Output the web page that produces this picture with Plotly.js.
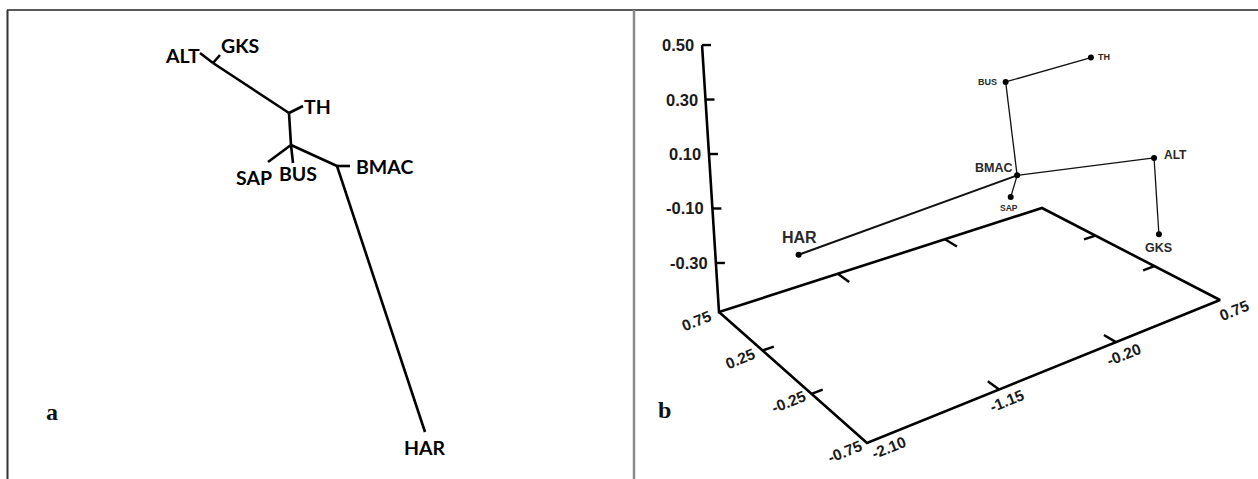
<!DOCTYPE html>
<html>
<head>
<meta charset="utf-8">
<script src="https://cdn.plot.ly/plotly-3.0.1.min.js"></script>
<style>html,body{margin:0;padding:0;background:#fff}#chart{width:1258px;height:479px}</style>
</head>
<body>
<div id="chart"></div>
<script>
// ---------------- DATA ----------------
// Panel a: unrooted tree (node positions in the tree's drawing units)
const treeNodes = ['ALT','J1','GKS','J2','TH','J3','SAP','BUS','J4','BMAC','HAR'];
const treeX     = [200, 213, 220, 289, 303, 291, 268, 293, 337, 350, 425];
const treeY     = [53,  63,  55,  113, 106, 145, 162, 163, 166, 166, 432];
const treeEdges = [['ALT','J1'],['GKS','J1'],['J1','J2'],['J2','TH'],['J2','J3'],
                   ['J3','SAP'],['J3','BUS'],['J3','J4'],['J4','BMAC'],['J4','HAR']];
const treeTips  = ['ALT','GKS','TH','SAP','BUS','BMAC','HAR'];

// Panel b: 3-D ordination (axis 1, axis 2, axis 3)
const pops  = ['HAR','BMAC','SAP','BUS','TH','ALT','GKS'];
const dim1  = [-1.86, -0.05, -0.12, -0.10, 0.71, 0.58, 0.58];
const dim2  = [ 0.15,  0.15,  0.15,  0.15, 0.15, -0.45, -0.45];
const dim3  = [-0.14, -0.13, -0.20,  0.22, 0.20, -0.01, -0.29];
const links = [['HAR','BMAC'],['BMAC','SAP'],['BMAC','BUS'],['BUS','TH'],['BMAC','ALT'],['ALT','GKS']];
const dim1Ticks = [-2.10, -1.15, -0.20, 0.75];
const dim2Ticks = [0.75, 0.25, -0.25, -0.75];
const dim3Ticks = [0.50, 0.30, 0.10, -0.10, -0.30];

// ---------------- VIEW / STYLE ----------------
const W = 1258, H = 479;
const SPLIT = 632;
const view = {
  floorCorners: { c00:[867,443], c10:[1220,300], c11:[1042,208], c01:[719,312] },
  zFloor: -0.48, up: [-17.3, -272.4]
};
const d1Min = dim1Ticks[0], d1Max = dim1Ticks[dim1Ticks.length-1];
const d2Min = Math.min(...dim2Ticks), d2Max = Math.max(...dim2Ticks);
const d3Max = Math.max(...dim3Ticks);

function makeHomography(P0,P1,P2,P3){
  const [x0,y0]=P0,[x1,y1]=P1,[x2,y2]=P2,[x3,y3]=P3;
  const dx1=x1-x2, dx2=x3-x2, dx3=x0-x1+x2-x3;
  const dy1=y1-y2, dy2=y3-y2, dy3=y0-y1+y2-y3;
  const det=dx1*dy2-dx2*dy1;
  const g=(dx3*dy2-dx2*dy3)/det, h=(dx1*dy3-dx3*dy1)/det;
  const a=x1-x0+g*x1, b=x3-x0+h*x3, c=x0;
  const d=y1-y0+g*y1, e=y3-y0+h*y3, f=y0;
  return (s,t)=>{const w=g*s+h*t+1; return [(a*s+b*t+c)/w,(d*s+e*t+f)/w];};
}
const fc = view.floorCorners;
const Hm = makeHomography(fc.c00, fc.c10, fc.c11, fc.c01);
const toS = u => (u-d1Min)/(d1Max-d1Min);
const toT = v => (v-d2Min)/(d2Max-d2Min);
function proj(u,v,z){
  const [x,y] = Hm(toS(u), toT(v));
  const h = z - view.zFloor;
  return [x + h*view.up[0], y + h*view.up[1]];
}

// ---------------- TRACES ----------------
const traces = [];
// Panel a tree
const idx = n => treeNodes.indexOf(n);
const ax=[], ay=[];
treeEdges.forEach(([p,q])=>{ ax.push(treeX[idx(p)],treeX[idx(q)],null); ay.push(treeY[idx(p)],treeY[idx(q)],null); });
traces.push({x:ax,y:ay,xaxis:'x',yaxis:'y',mode:'lines',line:{color:'#000',width:2.6},hoverinfo:'skip'});

// Panel b: floor box
const floorPts = [[d1Min,d2Max],[d1Max,d2Max],[d1Max,d2Min],[d1Min,d2Min],[d1Min,d2Max]].map(([u,v])=>proj(u,v,view.zFloor));
const vTop = proj(d1Min,d2Max,d3Max);
traces.push({x:[vTop[0], ...floorPts.map(p=>p[0])], y:[vTop[1], ...floorPts.map(p=>p[1])],
  xaxis:'x2',yaxis:'y2',mode:'lines',line:{color:'#000',width:2.6},hoverinfo:'skip'});

// ticks
const tx=[], ty=[];
function tickSeg(u,v,du,dv,len){
  const p=proj(u,v,view.zFloor), q=proj(u+du,v+dv,view.zFloor);
  const dx=q[0]-p[0], dy=q[1]-p[1], L=Math.hypot(dx,dy);
  tx.push(p[0], p[0]+dx/L*len, null); ty.push(p[1], p[1]+dy/L*len, null);
}
dim1Ticks.slice(1,-1).forEach(u=>{ tickSeg(u,d2Min,0,0.05,14); tickSeg(u,d2Max,0,-0.05,14); });
dim2Ticks.slice(1,-1).forEach(v=>{ tickSeg(d1Min,v,0.05,0,12); tickSeg(d1Max,v,-0.05,0,12); });
dim3Ticks.forEach(z=>{ const p=proj(d1Min,d2Max,z); tx.push(p[0],p[0]+9,null); ty.push(p[1],p[1],null); });
traces.push({x:tx,y:ty,xaxis:'x2',yaxis:'y2',mode:'lines',line:{color:'#000',width:2.4},hoverinfo:'skip'});

// links
const P = pops.map((n,i)=>proj(dim1[i],dim2[i],dim3[i]));
const pi = n => pops.indexOf(n);
const thickX=[],thickY=[],thinX=[],thinY=[];
links.forEach(([a,b])=>{
  const A=P[pi(a)], B=P[pi(b)];
  const tX = (a==='HAR'||b==='HAR') ? thickX : thinX, tY = (a==='HAR'||b==='HAR') ? thickY : thinY;
  tX.push(A[0],B[0],null); tY.push(A[1],B[1],null);
});
traces.push({x:thickX,y:thickY,xaxis:'x2',yaxis:'y2',mode:'lines',line:{color:'#111',width:2},hoverinfo:'skip'});
traces.push({x:thinX,y:thinY,xaxis:'x2',yaxis:'y2',mode:'lines',line:{color:'#111',width:1.3},hoverinfo:'skip'});
traces.push({x:P.map(p=>p[0]),y:P.map(p=>p[1]),xaxis:'x2',yaxis:'y2',mode:'markers',
  marker:{color:'#000',size:6},hoverinfo:'skip'});

// ---------------- ANNOTATIONS ----------------
const ann = [];
const treeLabelStyle = { ALT:[-18,-2], GKS:[20,10], TH:[14,0], SAP:[-14,-15], BUS:[5,-10], BMAC:[34,0], HAR:[0,-15] };
treeTips.forEach(n=>{
  const [xs,ys] = treeLabelStyle[n];
  ann.push({x:treeX[idx(n)],y:treeY[idx(n)],xref:'x',yref:'y',text:'<b>'+n+'</b>',showarrow:false,
    xanchor:'center',yanchor:'middle',xshift:xs,yshift:ys,font:{family:'Lato, Carlito, sans-serif',size:19.5,color:'#000'}});
});
const popLabelStyle = { TH:[13,1,9], BUS:[-18,0,9], BMAC:[-23,7,12.5], SAP:[-2,-11,8.5], ALT:[21,3,12], GKS:[0,-14,12.5], HAR:[1,17,16] };
pops.forEach((n,i)=>{
  const [xs,ys,sz] = popLabelStyle[n];
  ann.push({x:P[i][0],y:P[i][1],xref:'x2',yref:'y2',text:'<b>'+n+'</b>',showarrow:false,
    xanchor:'center',yanchor:'middle',xshift:xs,yshift:ys,font:{family:'Liberation Sans, Arial, sans-serif',size:sz,color:'#2a2a2a'}});
});
const tickFont = {family:'Liberation Sans, Arial, sans-serif',size:15.5,color:'#1a1a1a'};
dim3Ticks.forEach(z=>{
  const p=proj(d1Min,d2Max,z);
  ann.push({x:p[0],y:p[1],xref:'x2',yref:'y2',text:'<b>'+z.toFixed(2)+'</b>',showarrow:false,
    xanchor:'right',yanchor:'middle',xshift:-6,font:{family:tickFont.family,size:16.5,color:tickFont.color}});
});
const d1Shift = [[22,-4],[8,-11],[8,-12],[14,-10]];
dim1Ticks.forEach((u,k)=>{
  const p=proj(u,d2Min,view.zFloor);
  ann.push({x:p[0],y:p[1],xref:'x2',yref:'y2',text:'<b>'+u.toFixed(2)+'</b>',showarrow:false,textangle:-22,
    xanchor:'center',yanchor:'middle',xshift:d1Shift[k][0],yshift:d1Shift[k][1],font:tickFont});
});
dim2Ticks.forEach(v=>{
  const p=proj(d1Min,v,view.zFloor);
  ann.push({x:p[0],y:p[1],xref:'x2',yref:'y2',text:'<b>'+v.toFixed(2)+'</b>',showarrow:false,textangle:-22,
    xanchor:'center',yanchor:'middle',xshift:-22,yshift:-8,font:tickFont});
});
const panelFont = {family:'Liberation Serif, DejaVu Serif, serif',size:24,color:'#111'};
ann.push({x:52/W,y:1-412/H,xref:'paper',yref:'paper',text:'<b>a</b>',showarrow:false,xanchor:'center',yanchor:'middle',font:panelFont});
ann.push({x:664/W,y:1-410/H,xref:'paper',yref:'paper',text:'<b>b</b>',showarrow:false,xanchor:'center',yanchor:'middle',font:panelFont});

// ---------------- FRAME ----------------
const px = v=>v/W, py = v=>1-v/H;
const shapes = [
  {type:'line',xref:'paper',yref:'paper',x0:px(7),x1:1,y0:py(10),y1:py(10),line:{color:'#5a5a5a',width:2}},
  {type:'line',xref:'paper',yref:'paper',x0:px(7.5),x1:px(7.5),y0:py(10),y1:0,line:{color:'#333',width:2}},
  {type:'line',xref:'paper',yref:'paper',x0:px(634),x1:px(634),y0:py(10),y1:0,line:{color:'#8a8a8a',width:2.5}}
];

const hidden = {visible:false,fixedrange:true,autorange:false,showgrid:false,zeroline:false};
const layout = {
  width:W,height:H,margin:{l:0,r:0,t:0,b:0},paper_bgcolor:'#fff',plot_bgcolor:'rgba(0,0,0,0)',showlegend:false,
  xaxis:Object.assign({domain:[0,SPLIT/W],range:[0,SPLIT],anchor:'y'},hidden),
  yaxis:Object.assign({domain:[0,1],range:[H,0],anchor:'x'},hidden),
  xaxis2:Object.assign({domain:[SPLIT/W,1],range:[SPLIT,W],anchor:'y2'},hidden),
  yaxis2:Object.assign({domain:[0,1],range:[H,0],anchor:'x2'},hidden),
  annotations:ann, shapes:shapes
};
Plotly.newPlot('chart',traces,layout,{staticPlot:true,displayModeBar:false});
</script>
</body>
</html>
